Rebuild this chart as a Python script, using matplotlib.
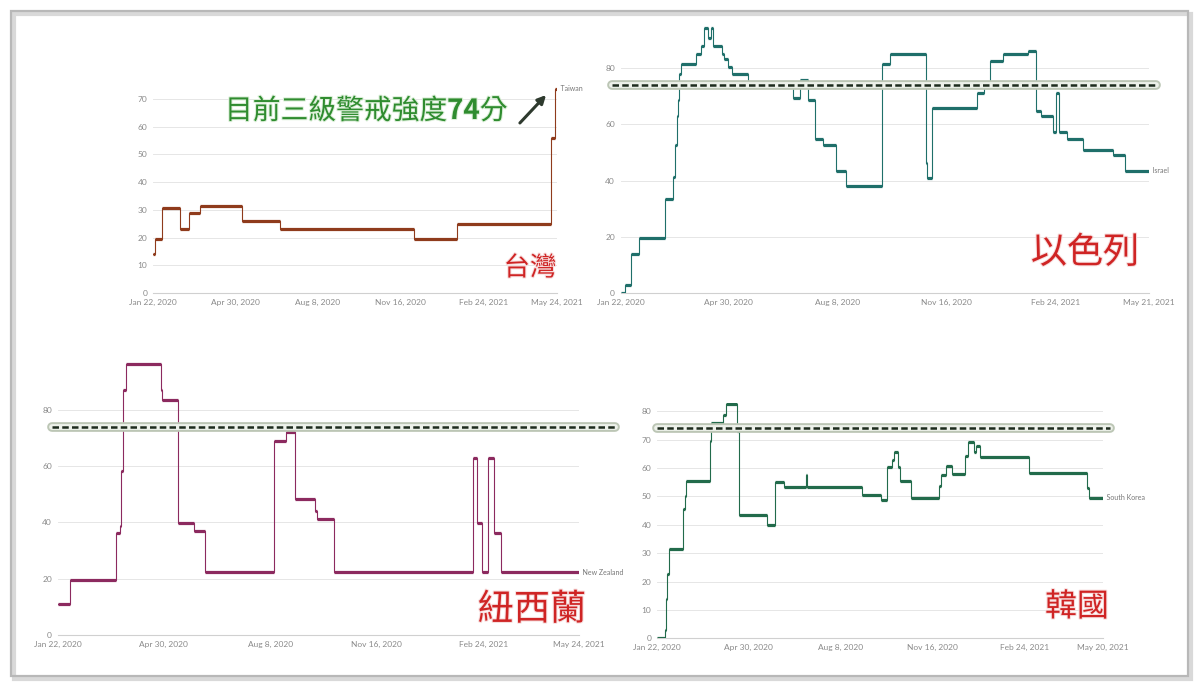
import matplotlib
matplotlib.use("Agg")
import matplotlib.pyplot as plt
import matplotlib.dates as mdates
import matplotlib.patheffects as pe
from matplotlib.patches import Rectangle, FancyArrowPatch
import pandas as pd

W, H = 1200, 689
CJK = ["Noto Sans CJK TC", "DejaVu Sans"]
THRESHOLD = 74

# ---- data (Oxford stringency index) ----
tw_dates = ["2020-01-22", "2020-01-24", "2020-02-02", "2020-02-24", "2020-03-05",
            "2020-03-19", "2020-05-08", "2020-06-23", "2020-12-02", "2021-01-23",
            "2021-05-17", "2021-05-21"]
tw_vals = [13.89, 19.44, 30.56, 23.15, 28.7, 31.48, 25.93, 23.15, 19.44, 25.0,
           56.02, 73.61]
tw_end = "2021-05-24"

il_dates = ["2020-01-22", "2020-01-26", "2020-02-01", "2020-02-08", "2020-03-03",
            "2020-03-10", "2020-03-12", "2020-03-14", "2020-03-15", "2020-03-16",
            "2020-03-17", "2020-03-31", "2020-04-05", "2020-04-08", "2020-04-11",
            "2020-04-14", "2020-04-16", "2020-04-24", "2020-04-26", "2020-04-30",
            "2020-05-03", "2020-05-18", "2020-06-28", "2020-07-05", "2020-07-12",
            "2020-07-18", "2020-07-26", "2020-08-07", "2020-08-16", "2020-09-18",
            "2020-09-25", "2020-10-28", "2020-10-29", "2020-11-03", "2020-12-14",
            "2020-12-21", "2020-12-26", "2021-01-07", "2021-01-30", "2021-02-06",
            "2021-02-11", "2021-02-22", "2021-02-25", "2021-02-27", "2021-03-07",
            "2021-03-21", "2021-04-18", "2021-04-29"]
il_vals = [0, 2.78, 13.89, 19.44, 33.33, 41.2, 52.78, 62.96, 68.52, 77.78,
           81.48, 85.19, 87.96, 94.44, 90.74, 94.44, 87.96, 85.19, 83.33, 80.56,
           77.78, 75.0, 69.44, 75.93, 68.52, 54.63, 52.78, 43.52, 37.96, 81.48,
           85.19, 46.3, 40.74, 65.74, 71.3, 73.15, 82.41, 85.19, 86.11, 64.81,
           62.96, 57.41, 71.3, 57.41, 54.63, 50.93, 49.07, 43.52]
il_end = "2021-05-21"

nz_dates = ["2020-01-22", "2020-02-03", "2020-03-17", "2020-03-20", "2020-03-21",
            "2020-03-23", "2020-03-26", "2020-04-28", "2020-04-29", "2020-05-14",
            "2020-05-29", "2020-06-08", "2020-08-12", "2020-08-23", "2020-08-31",
            "2020-09-19", "2020-09-21", "2020-10-07", "2021-02-14", "2021-02-18",
            "2021-02-22", "2021-02-28", "2021-03-06", "2021-03-12"]
nz_vals = [11.11, 19.44, 36.11, 38.89, 58.33, 87.04, 96.3, 87.04, 83.33, 39.81,
           37.04, 22.22, 68.98, 72.22, 48.15, 43.98, 41.2, 22.22, 62.96, 39.81,
           22.22, 62.96, 36.11, 22.22]
nz_end = "2021-05-24"

kr_dates = ["2020-01-22", "2020-01-31", "2020-02-01", "2020-02-02", "2020-02-04",
            "2020-02-20", "2020-02-22", "2020-02-23", "2020-03-20", "2020-03-21",
            "2020-04-03", "2020-04-06", "2020-04-18", "2020-04-20", "2020-05-20",
            "2020-05-29", "2020-06-08", "2020-07-02", "2020-07-03", "2020-09-01",
            "2020-09-21", "2020-09-28", "2020-10-03", "2020-10-05", "2020-10-09",
            "2020-10-12", "2020-10-24", "2020-11-23", "2020-11-25", "2020-11-30",
            "2020-12-07", "2020-12-21", "2020-12-24", "2020-12-31", "2021-01-02",
            "2021-01-06", "2021-02-28", "2021-05-02", "2021-05-05"]
kr_vals = [0, 2.78, 13.89, 22.69, 31.48, 45.37, 50.0, 55.56, 69.44, 75.93,
           78.7, 82.41, 73.15, 43.52, 39.81, 55.09, 53.24, 57.41, 53.24, 50.46,
           48.61, 60.19, 62.96, 65.74, 60.19, 55.56, 49.54, 53.7, 57.41, 60.65,
           57.87, 64.35, 68.98, 65.74, 67.59, 63.89, 58.33, 52.78, 49.54]
kr_end = "2021-05-20"

tick_dates = ["2020-01-22", "2020-04-30", "2020-08-08", "2020-11-16", "2021-02-24"]
tick_labels = ["Jan 22, 2020", "Apr 30, 2020", "Aug 8, 2020", "Nov 16, 2020", "Feb 24, 2021"]

fig = plt.figure(figsize=(W / 100, H / 100), dpi=100)
fig.patch.set_facecolor("white")

# outer frame with a soft shadow
fig.add_artist(Rectangle((14 / W, 1 - 679 / H), 1177 / W, 665 / H, transform=fig.transFigure,
                         fill=False, edgecolor="#d9d9d9", lw=3))
fig.add_artist(Rectangle((11 / W, 1 - 676 / H), 1177 / W, 665 / H, transform=fig.transFigure,
                         fill=False, edgecolor="#b8b8b8", lw=1.6))


def add_panel(box, dates, vals, end, color, ymax, yticks, end_label):
    l, t, r, b = box
    ax = fig.add_axes([l / W, 1 - b / H, (r - l) / W, (b - t) / H])
    x = mdates.date2num(pd.to_datetime(dates + [end]))
    y = vals + [vals[-1]]
    ax.step(x, y, where="post", color=color, lw=0.8, zorder=3)
    ax.hlines(vals, x[:-1], x[1:], color=color, lw=2.3, zorder=3)
    ax.set_xlim(x[0], x[-1])
    ax.set_ylim(0, ymax)
    for s in ax.spines.values():
        s.set_visible(False)
    ax.spines["bottom"].set_visible(True)
    ax.spines["bottom"].set_color("#d0d0d0")
    ax.spines["bottom"].set_linewidth(0.8)
    ax.set_yticks(yticks)
    ax.set_yticklabels([str(v) for v in yticks])
    xt = list(mdates.date2num(pd.to_datetime(tick_dates))) + [x[-1]]
    end_str = pd.to_datetime(end).strftime("%b %d, %Y").replace(" 0", " ")
    ax.set_xticks(xt)
    ax.set_xticklabels(tick_labels + [end_str])
    ax.grid(axis="y", color="#e6e6e6", lw=0.7)
    ax.set_axisbelow(True)
    ax.tick_params(length=0, labelsize=6, labelcolor="#8a8a8a", pad=4)
    for lab in ax.get_xticklabels() + ax.get_yticklabels():
        lab.set_family("Lato")
    ax.text(x[-1], vals[-1], "  " + end_label, fontsize=5, color="#777777",
            va="center", ha="left", family="Lato", clip_on=False)
    ax.patch.set_alpha(0)
    return ax


def threshold(ax, box, x0, x1):
    l, t, r, b = box
    xa = [(x0 - l) / (r - l), (x1 - l) / (r - l)]
    tr = ax.get_yaxis_transform()
    ax.plot(xa, [THRESHOLD] * 2, transform=tr, color="#bcc6b5", lw=7,
            solid_capstyle="round", clip_on=False, zorder=5)
    ax.plot(xa, [THRESHOLD] * 2, transform=tr, color="#edf1ea", lw=4.2,
            solid_capstyle="round", clip_on=False, zorder=6)
    ax.plot(xa, [THRESHOLD] * 2, transform=tr, color="#1d2b1d", lw=1.8,
            dashes=(2.6, 1.3), clip_on=False, zorder=7)


tw_box = (153, 85, 557, 293)
ax_tw = add_panel(tw_box, tw_dates, tw_vals, tw_end, "#8f3b1c", 75,
                  list(range(0, 80, 10)), "Taiwan")

il_box = (620.6, 26, 1149, 293)
ax_il = add_panel(il_box, il_dates, il_vals, il_end, "#1f6f6a", 95,
                  list(range(0, 100, 20)), "Israel")
threshold(ax_il, il_box, 612, 1156)

nz_box = (57.6, 362, 578.7, 635)
ax_nz = add_panel(nz_box, nz_dates, nz_vals, nz_end, "#8c2a5f", 97,
                  list(range(0, 100, 20)), "New Zealand")
threshold(ax_nz, nz_box, 52, 615)

kr_box = (656.7, 402.6, 1103.3, 638.3)
ax_kr = add_panel(kr_box, kr_dates, kr_vals, kr_end, "#226b4b", 83,
                  list(range(0, 90, 10)), "South Korea")
threshold(ax_kr, kr_box, 657, 1110)

# country names in red
red_fx = [pe.withStroke(linewidth=1.5, foreground="#f7dede")]
names = ["台灣", "以色列", "紐西蘭", "韓國"]
name_pos = [(530, 268), (1085, 253), (532, 610), (1077, 607)]
name_size = [19, 26, 26, 23]
for n, (px, py), fs in zip(names, name_pos, name_size):
    fig.text(px / W, 1 - py / H, n, fontsize=fs, color="#cf2424", family=CJK,
             ha="center", va="center", path_effects=red_fx)

# green note on the Taiwan panel
renderer = fig.canvas.get_renderer()
note_parts = [("目前三級警戒強度", "normal"), ("74", "bold"), ("分", "normal")]
green_fx = [pe.withStroke(linewidth=1.5, foreground="#dcefd9")]
xpos = 225
for s, w in note_parts:
    t = fig.text(xpos / W, 1 - 111 / H, s, fontsize=20, fontweight=w, color="#2f8c2f",
                 family=CJK, ha="left", va="center", path_effects=green_fx)
    xpos += t.get_window_extent(renderer).width

fig.add_artist(FancyArrowPatch((518 / W, 1 - 125 / H), (548 / W, 1 - 93 / H),
                               transform=fig.transFigure, arrowstyle="-|>",
                               mutation_scale=12, lw=2.2, color="#2e3a2e"))

fig.savefig("out.png", dpi=100, facecolor="white")
